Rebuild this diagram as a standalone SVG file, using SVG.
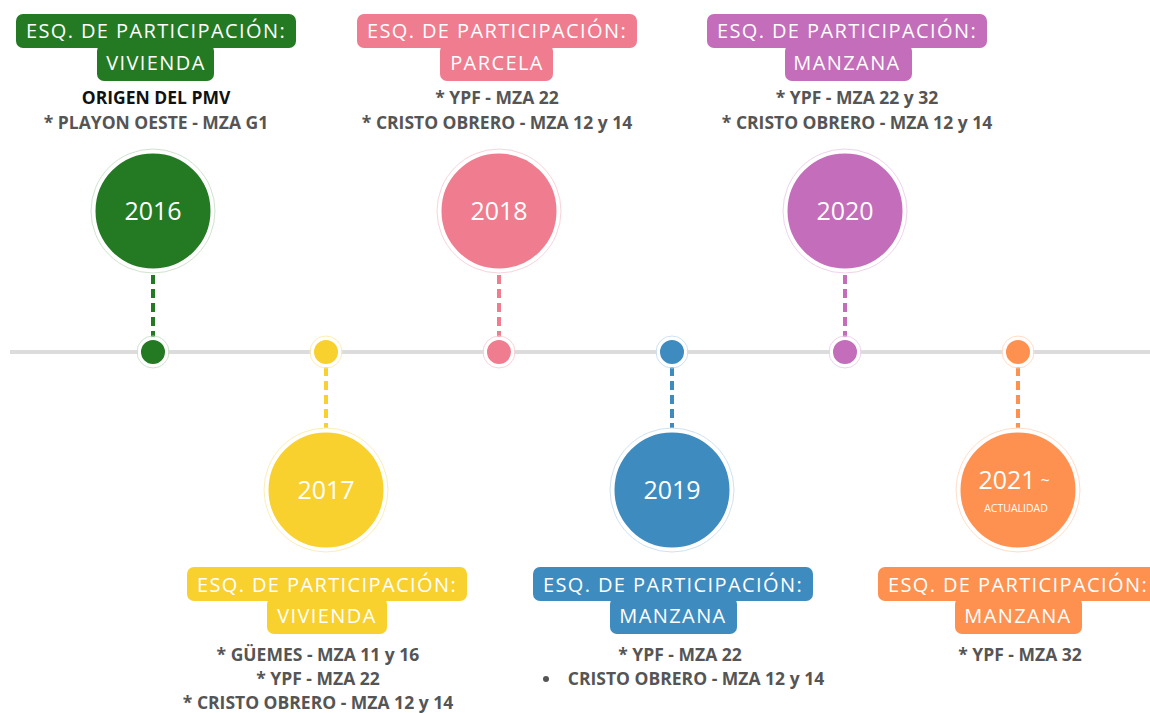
<svg xmlns="http://www.w3.org/2000/svg" width="1150" height="713" viewBox="0 0 1150 713">
<style>
.lbl{font-family:"Open Sans","Liberation Sans",sans-serif;font-size:20px;fill:#fff;text-anchor:middle;letter-spacing:1.4px}
.yr{font-family:"Open Sans","Liberation Sans",sans-serif;font-size:25px;fill:#fff;text-anchor:middle}
.it{font-family:"Open Sans","Liberation Sans",sans-serif;font-size:17.5px;font-weight:700;fill:#555;text-anchor:middle}
.blk{fill:#111}
.dash{stroke-width:4;stroke-dasharray:9 5;fill:none}
.ring{stroke:#fff;stroke-width:3}
</style>
<rect width="1150" height="713" fill="#fff"/>
<g id="connectors">
<line x1="10" y1="352" x2="1150" y2="352" stroke="#dcdcdc" stroke-width="4"/>
<line class="dash" x1="153" y1="275" x2="153" y2="338" stroke="#247a22"/>
<line class="dash" x1="326" y1="367" x2="326" y2="428" stroke="#f8d12f"/>
<line class="dash" x1="499" y1="275" x2="499" y2="338" stroke="#ef7d8f"/>
<line class="dash" x1="672" y1="367" x2="672" y2="428" stroke="#3e8bbf"/>
<line class="dash" x1="845" y1="275" x2="845" y2="338" stroke="#c36dbb"/>
<line class="dash" x1="1018" y1="367" x2="1018" y2="428" stroke="#fe9150"/>
</g>
<g id="n2016">
<circle cx="153" cy="211" r="62" fill="none" stroke="#cfe3cf" stroke-width="1"/>
<circle cx="153" cy="211" r="59" fill="#247a22" class="ring"/>
<text class="yr" x="153" y="220">2016</text>
<circle cx="153" cy="352" r="16" fill="none" stroke="#cfe3cf" stroke-width="1"/>
<circle cx="153" cy="352" r="13.5" fill="#247a22" class="ring"/>
<rect x="16" y="14" width="280" height="34" rx="7" fill="#247a22"/>
<rect x="97" y="44" width="117" height="37" rx="7" fill="#247a22"/>
<text class="lbl" x="156" y="38">ESQ. DE PARTICIPACIÓN:</text>
<text class="lbl" x="156" y="70">VIVIENDA</text>
<text class="it blk" x="156" y="104">ORIGEN DEL PMV</text>
<text class="it" x="156" y="129">* PLAYON OESTE - MZA G1</text>
</g>
<g id="n2017">
<circle cx="326" cy="490" r="62" fill="none" stroke="#fbeeb5" stroke-width="1"/>
<circle cx="326" cy="490" r="59" fill="#f8d12f" class="ring"/>
<text class="yr" x="326" y="499">2017</text>
<circle cx="326" cy="352" r="16" fill="none" stroke="#fbeeb5" stroke-width="1"/>
<circle cx="326" cy="352" r="13.5" fill="#f8d12f" class="ring"/>
<rect x="187" y="567" width="280" height="34" rx="7" fill="#f8d12f"/>
<rect x="267" y="597" width="120" height="37" rx="7" fill="#f8d12f"/>
<text class="lbl" x="327" y="592">ESQ. DE PARTICIPACIÓN:</text>
<text class="lbl" x="327" y="623">VIVIENDA</text>
<text class="it" x="318" y="661">* GÜEMES - MZA 11 y 16</text>
<text class="it" x="318" y="685">* YPF - MZA 22</text>
<text class="it" x="318" y="709">* CRISTO OBRERO - MZA 12 y 14</text>
</g>
<g id="n2018">
<circle cx="499" cy="211" r="62" fill="none" stroke="#f9d3da" stroke-width="1"/>
<circle cx="499" cy="211" r="59" fill="#ef7d8f" class="ring"/>
<text class="yr" x="499" y="220">2018</text>
<circle cx="499" cy="352" r="16" fill="none" stroke="#f9d3da" stroke-width="1"/>
<circle cx="499" cy="352" r="13.5" fill="#ef7d8f" class="ring"/>
<rect x="357" y="14" width="280" height="34" rx="7" fill="#ef7d8f"/>
<rect x="440" y="44" width="113" height="37" rx="7" fill="#ef7d8f"/>
<text class="lbl" x="497" y="38">ESQ. DE PARTICIPACIÓN:</text>
<text class="lbl" x="497" y="70">PARCELA</text>
<text class="it" x="497" y="104">* YPF - MZA 22</text>
<text class="it" x="497" y="129">* CRISTO OBRERO - MZA 12 y 14</text>
</g>
<g id="n2019">
<circle cx="672" cy="490" r="62" fill="none" stroke="#cfe2f0" stroke-width="1"/>
<circle cx="672" cy="490" r="59" fill="#3e8bbf" class="ring"/>
<text class="yr" x="672" y="499">2019</text>
<circle cx="672" cy="352" r="16" fill="none" stroke="#cfe2f0" stroke-width="1"/>
<circle cx="672" cy="352" r="13.5" fill="#3e8bbf" class="ring"/>
<rect x="533" y="567" width="280" height="34" rx="7" fill="#3e8bbf"/>
<rect x="610" y="597" width="127" height="37" rx="7" fill="#3e8bbf"/>
<text class="lbl" x="673" y="592">ESQ. DE PARTICIPACIÓN:</text>
<text class="lbl" x="673" y="623">MANZANA</text>
<text class="it" x="680" y="661">* YPF - MZA 22</text>
<circle cx="546" cy="679" r="3" fill="#555"/>
<text class="it" x="696" y="685">CRISTO OBRERO - MZA 12 y 14</text>
</g>
<g id="n2020">
<circle cx="845" cy="211" r="62" fill="none" stroke="#efd3ec" stroke-width="1"/>
<circle cx="845" cy="211" r="59" fill="#c36dbb" class="ring"/>
<text class="yr" x="845" y="220">2020</text>
<circle cx="845" cy="352" r="16" fill="none" stroke="#efd3ec" stroke-width="1"/>
<circle cx="845" cy="352" r="13.5" fill="#c36dbb" class="ring"/>
<rect x="707" y="14" width="280" height="34" rx="7" fill="#c36dbb"/>
<rect x="785" y="44" width="127" height="37" rx="7" fill="#c36dbb"/>
<text class="lbl" x="847" y="38">ESQ. DE PARTICIPACIÓN:</text>
<text class="lbl" x="847" y="70">MANZANA</text>
<text class="it" x="857" y="104">* YPF - MZA 22 y 32</text>
<text class="it" x="857" y="129">* CRISTO OBRERO - MZA 12 y 14</text>
</g>
<g id="n2021">
<circle cx="1018" cy="490" r="62" fill="none" stroke="#ffddc8" stroke-width="1"/>
<circle cx="1018" cy="490" r="59" fill="#fe9150" class="ring"/>
<text class="yr" x="1007" y="489">2021</text>
<text class="yr" x="1045" y="486" style="font-size:16px">~</text>
<text class="yr" x="1016" y="512" style="font-size:10.5px">ACTUALIDAD</text>
<circle cx="1018" cy="352" r="16" fill="none" stroke="#ffddc8" stroke-width="1"/>
<circle cx="1018" cy="352" r="13.5" fill="#fe9150" class="ring"/>
<rect x="878" y="567" width="285" height="34" rx="7" fill="#fe9150"/>
<rect x="955" y="597" width="127" height="37" rx="7" fill="#fe9150"/>
<text class="lbl" x="1018" y="592">ESQ. DE PARTICIPACIÓN:</text>
<text class="lbl" x="1018" y="623">MANZANA</text>
<text class="it" x="1020" y="661">* YPF - MZA 32</text>
</g>
</svg>
